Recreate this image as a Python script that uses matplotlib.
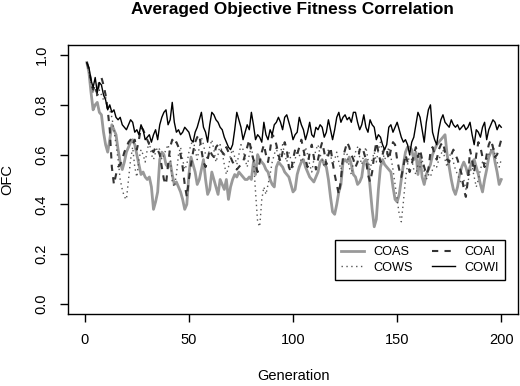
import numpy as np
import matplotlib
matplotlib.use("Agg")
import matplotlib.pyplot as plt

plt.rcParams['font.family'] = ['Liberation Sans', 'DejaVu Sans']

generation = np.arange(1, 201)

# COWI - solid black
cowi = [0.97, 0.95, 0.90, 0.87, 0.91, 0.85, 0.89, 0.88, 0.84, 0.82,
        0.78, 0.80, 0.77, 0.78, 0.75, 0.74, 0.75, 0.72, 0.71, 0.70,
        0.72, 0.74, 0.73, 0.69, 0.70, 0.68, 0.72, 0.70, 0.66, 0.67,
        0.68, 0.65, 0.68, 0.70, 0.66, 0.72, 0.75, 0.77, 0.78, 0.72,
        0.74, 0.81, 0.73, 0.69, 0.70, 0.68, 0.69, 0.71, 0.70, 0.69,
        0.66, 0.65, 0.69, 0.71, 0.74, 0.77, 0.71, 0.69, 0.65, 0.72,
        0.77, 0.76, 0.74, 0.73, 0.71, 0.70, 0.67, 0.65, 0.63, 0.62,
        0.64, 0.70, 0.77, 0.74, 0.71, 0.66, 0.69, 0.72, 0.70, 0.77,
        0.72, 0.66, 0.68, 0.67, 0.65, 0.73, 0.68, 0.66, 0.70, 0.68,
        0.72, 0.73, 0.75, 0.73, 0.70, 0.75, 0.76, 0.73, 0.70, 0.66,
        0.68, 0.69, 0.75, 0.72, 0.70, 0.66, 0.69, 0.73, 0.68, 0.67,
        0.71, 0.70, 0.72, 0.71, 0.67, 0.69, 0.74, 0.70, 0.66, 0.70,
        0.75, 0.77, 0.73, 0.75, 0.76, 0.74, 0.75, 0.73, 0.77, 0.77,
        0.73, 0.70, 0.72, 0.76, 0.71, 0.69, 0.74, 0.72, 0.71, 0.66,
        0.68, 0.67, 0.64, 0.62, 0.64, 0.71, 0.72, 0.69, 0.71, 0.73,
        0.70, 0.67, 0.65, 0.66, 0.64, 0.60, 0.65, 0.67, 0.72, 0.77,
        0.75, 0.70, 0.65, 0.73, 0.78, 0.80, 0.69, 0.66, 0.64, 0.70,
        0.74, 0.76, 0.73, 0.72, 0.71, 0.74, 0.72, 0.71, 0.72, 0.70,
        0.71, 0.72, 0.70, 0.71, 0.73, 0.68, 0.64, 0.70, 0.69, 0.67,
        0.71, 0.73, 0.66, 0.70, 0.72, 0.74, 0.73, 0.70, 0.72, 0.71]

# COAS - thick grey
coas = [0.97, 0.93, 0.85, 0.78, 0.80, 0.81, 0.77, 0.76, 0.69, 0.64,
        0.61, 0.66, 0.72, 0.70, 0.68, 0.62, 0.57, 0.54, 0.57, 0.61,
        0.63, 0.65, 0.66, 0.64, 0.60, 0.56, 0.52, 0.53, 0.51, 0.50,
        0.51, 0.47, 0.38, 0.41, 0.45, 0.58, 0.61, 0.60, 0.56, 0.55,
        0.57, 0.52, 0.48, 0.49, 0.47, 0.45, 0.42, 0.38, 0.40, 0.52,
        0.59, 0.56, 0.53, 0.48, 0.50, 0.54, 0.58, 0.50, 0.44, 0.46,
        0.53, 0.50, 0.47, 0.44, 0.50, 0.48, 0.46, 0.50, 0.42, 0.47,
        0.50, 0.52, 0.51, 0.53, 0.52, 0.51, 0.50, 0.50, 0.51, 0.50,
        0.57, 0.52, 0.60, 0.58, 0.57, 0.56, 0.54, 0.53, 0.50, 0.48,
        0.47, 0.55, 0.57, 0.56, 0.55, 0.53, 0.52, 0.51, 0.48, 0.45,
        0.46, 0.52, 0.55, 0.57, 0.58, 0.55, 0.53, 0.51, 0.50, 0.49,
        0.51, 0.53, 0.57, 0.58, 0.56, 0.55, 0.50, 0.43, 0.37, 0.36,
        0.40, 0.45, 0.48, 0.57, 0.58, 0.57, 0.59, 0.56, 0.52, 0.51,
        0.48, 0.49, 0.51, 0.57, 0.58, 0.56, 0.47, 0.38, 0.31, 0.34,
        0.46, 0.55, 0.58, 0.56, 0.55, 0.54, 0.53, 0.47, 0.42, 0.41,
        0.44, 0.50, 0.56, 0.61, 0.63, 0.63, 0.62, 0.58, 0.61, 0.52,
        0.59, 0.51, 0.48, 0.52, 0.54, 0.56, 0.60, 0.62, 0.64, 0.65,
        0.66, 0.67, 0.68, 0.60, 0.55, 0.50, 0.46, 0.44, 0.47, 0.52,
        0.55, 0.57, 0.55, 0.52, 0.55, 0.57, 0.58, 0.55, 0.52, 0.48,
        0.45, 0.50, 0.54, 0.59, 0.61, 0.62, 0.57, 0.53, 0.48, 0.50]

# COAI - dashed
coai = [0.97, 0.94, 0.90, 0.86, 0.88, 0.84, 0.90, 0.91, 0.88, 0.84,
        0.78, 0.70, 0.55, 0.48, 0.52, 0.55, 0.56, 0.58, 0.61, 0.63,
        0.65, 0.66, 0.64, 0.66, 0.62, 0.66, 0.71, 0.70, 0.68, 0.66,
        0.64, 0.62, 0.61, 0.63, 0.62, 0.60, 0.55, 0.50, 0.48, 0.56,
        0.63, 0.66, 0.64, 0.65, 0.63, 0.60, 0.55, 0.48, 0.43, 0.50,
        0.56, 0.61, 0.65, 0.67, 0.68, 0.62, 0.57, 0.55, 0.58, 0.62,
        0.60, 0.59, 0.63, 0.64, 0.62, 0.61, 0.60, 0.63, 0.61, 0.59,
        0.57, 0.56, 0.54, 0.55, 0.56, 0.57, 0.60, 0.63, 0.66, 0.61,
        0.58, 0.56, 0.53, 0.57, 0.61, 0.64, 0.60, 0.57, 0.62, 0.68,
        0.67, 0.64, 0.60, 0.57, 0.61, 0.65, 0.62, 0.55, 0.53, 0.58,
        0.62, 0.60, 0.63, 0.66, 0.62, 0.58, 0.55, 0.61, 0.64, 0.59,
        0.54, 0.58, 0.62, 0.65, 0.61, 0.56, 0.60, 0.63, 0.57, 0.52,
        0.48, 0.44, 0.50, 0.59, 0.62, 0.65, 0.63, 0.60, 0.58, 0.55,
        0.57, 0.62, 0.63, 0.61, 0.58, 0.52, 0.49, 0.53, 0.60, 0.65,
        0.61, 0.57, 0.60, 0.63, 0.62, 0.58, 0.62, 0.65, 0.64, 0.58,
        0.54, 0.51, 0.55, 0.60, 0.57, 0.53, 0.56, 0.60, 0.63, 0.59,
        0.62, 0.58, 0.55, 0.52, 0.54, 0.61, 0.63, 0.60, 0.58, 0.62,
        0.64, 0.65, 0.61, 0.58, 0.57, 0.60, 0.62, 0.60, 0.58, 0.55,
        0.52, 0.46, 0.43, 0.50, 0.62, 0.58, 0.53, 0.60, 0.65, 0.63,
        0.59, 0.55, 0.60, 0.64, 0.66, 0.63, 0.59, 0.60, 0.63, 0.66]

# COWS - dotted
cows = [0.97, 0.93, 0.88, 0.85, 0.86, 0.83, 0.86, 0.84, 0.82, 0.83,
        0.80, 0.78, 0.75, 0.70, 0.64, 0.58, 0.50, 0.46, 0.43, 0.42,
        0.50, 0.58, 0.63, 0.55, 0.51, 0.58, 0.62, 0.60, 0.57, 0.62,
        0.65, 0.60, 0.58, 0.61, 0.63, 0.62, 0.58, 0.60, 0.62, 0.64,
        0.60, 0.49, 0.47, 0.52, 0.60, 0.63, 0.58, 0.54, 0.56, 0.61,
        0.64, 0.66, 0.62, 0.58, 0.63, 0.67, 0.64, 0.60, 0.58, 0.63,
        0.66, 0.62, 0.57, 0.60, 0.64, 0.61, 0.56, 0.52, 0.55, 0.60,
        0.62, 0.59, 0.56, 0.60, 0.64, 0.62, 0.58, 0.55, 0.60, 0.63,
        0.58, 0.45, 0.33, 0.31, 0.42, 0.47, 0.44, 0.48, 0.52, 0.57,
        0.60, 0.63, 0.58, 0.61, 0.64, 0.60, 0.57, 0.61, 0.58, 0.55,
        0.58, 0.62, 0.60, 0.57, 0.59, 0.63, 0.60, 0.56, 0.53, 0.58,
        0.62, 0.64, 0.60, 0.58, 0.55, 0.59, 0.62, 0.60, 0.56, 0.58,
        0.61, 0.57, 0.54, 0.58, 0.62, 0.60, 0.55, 0.52, 0.57, 0.61,
        0.63, 0.59, 0.56, 0.60, 0.63, 0.58, 0.54, 0.58, 0.61, 0.57,
        0.62, 0.65, 0.61, 0.58, 0.60, 0.63, 0.59, 0.54, 0.48, 0.42,
        0.36, 0.33, 0.41, 0.50, 0.56, 0.60, 0.58, 0.54, 0.52, 0.56,
        0.55, 0.58, 0.53, 0.50, 0.52, 0.51, 0.54, 0.56, 0.55, 0.58,
        0.60, 0.62, 0.58, 0.55, 0.59, 0.61, 0.57, 0.54, 0.52, 0.50,
        0.48, 0.50, 0.46, 0.49, 0.53, 0.55, 0.51, 0.47, 0.50, 0.54,
        0.57, 0.55, 0.58, 0.60, 0.62, 0.64, 0.60, 0.57, 0.55, 0.58]

fig = plt.figure(figsize=(5.2, 3.86), dpi=100)
ax = fig.add_axes([0.131, 0.187, 0.865, 0.696])

l1, = ax.plot(generation, coas, color="#999999", lw=2.0)
l2, = ax.plot(generation, cows, color="#555555", lw=1.0, linestyle=(0, (1, 2.5)))
l3, = ax.plot(generation, coai, color="#333333", lw=1.5, linestyle=(0, (3, 3)))
l4, = ax.plot(generation, cowi, color="black", lw=1.0)

ax.set_xlim(-8, 208)
ax.set_ylim(-0.04, 1.04)
ax.set_xticks([0, 50, 100, 150, 200])
ax.set_yticks([0.0, 0.2, 0.4, 0.6, 0.8, 1.0])
ax.set_yticklabels(["0.0", "0.2", "0.4", "0.6", "0.8", "1.0"], rotation=90, va="center")
ax.tick_params(direction="out", length=6, width=1, labelsize=10.5, pad=8)
for s in ax.spines.values():
    s.set_linewidth(1)

ax.set_xlabel("Generation", fontsize=10.5, labelpad=16)
ax.set_ylabel("OFC", fontsize=10.5, labelpad=15)
fig.suptitle("Averaged Objective Fitness Correlation", fontsize=12.4,
             fontweight="bold", x=0.563, y=0.995)

leg = ax.legend([l1, l2, l3, l4], ["COAS", "COWS", "COAI", "COWI"], ncol=2,
                loc="lower right", bbox_to_anchor=(0.971, 0.126), borderaxespad=0,
                fontsize=9.2, fancybox=False, framealpha=1, edgecolor="black",
                handlelength=1.8, handletextpad=0.7, columnspacing=1.5,
                labelspacing=0.25, borderpad=0.5)
leg.get_frame().set_linewidth(1)

fig.savefig("out.png", dpi=100)
